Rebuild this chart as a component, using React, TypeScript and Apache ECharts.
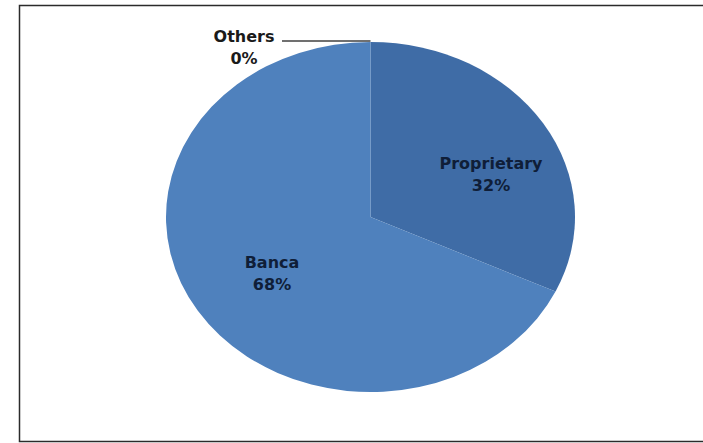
import React, { useEffect, useRef } from 'react';
import * as echarts from 'echarts';

const categories = ['Proprietary', 'Banca', 'Others'];
const values = [32, 68, 0];
const sliceColors = ['#3F6CA6', '#4F81BD', '#4F81BD'];
const labelCenters = [[491, 174], [272, 273], [244, 47]];

export default function App() {
  const ref = useRef<HTMLDivElement>(null);
  useEffect(() => {
    const chart = echarts.init(ref.current!, null, { renderer: 'svg' });
    const cx = 370.5, cy = 217, rx = 204.5, ry = 175;
    const total = values.reduce((a, b) => a + b, 0);
    const starts: number[] = [];
    let acc = 0;
    values.forEach((v) => { starts.push(acc); acc += v; });
    const font = { fontFamily: 'DejaVu Sans', fontWeight: 'bold', fontSize: 16 };
    chart.setOption({
      animation: false,
      backgroundColor: '#ffffff',
      graphic: [
        {
          type: 'rect',
          silent: true,
          shape: { x: 19.5, y: 5.5, width: 700, height: 436 },
          style: { fill: 'none', stroke: '#2b2b2b', lineWidth: 1.5 },
        },
      ],
      series: [
        {
          type: 'custom',
          coordinateSystem: 'none',
          data: values.map((v, i) => ({ name: categories[i], value: [i, v] })),
          renderItem: (params: any) => {
            const i = params.dataIndex;
            const a0 = (starts[i] / total) * 2 * Math.PI;
            const a1 = ((starts[i] + values[i]) / total) * 2 * Math.PI;
            const mid = (a0 + a1) / 2;
            const children: any[] = [];
            if (values[i] > 0) {
              children.push({
                type: 'sector',
                x: cx,
                y: cy,
                scaleY: ry / rx,
                shape: {
                  cx: 0,
                  cy: 0,
                  r0: 0,
                  r: rx,
                  startAngle: a0 - Math.PI / 2,
                  endAngle: a1 - Math.PI / 2,
                  clockwise: true,
                },
                style: { fill: sliceColors[i], stroke: 'none' },
              });
            }
            const [lx, ly] = labelCenters[i];
            const outside = values[i] === 0;
            children.push({
              type: 'text',
              x: lx,
              y: ly,
              style: {
                text: categories[i] + '\n' + values[i] + '%',
                align: 'center',
                verticalAlign: 'middle',
                lineHeight: 22,
                fill: outside ? '#1a1a1a' : '#0f1e38',
                ...font,
              },
            });
            if (outside) {
              const ex = cx + rx * Math.sin(mid);
              const ey = cy - ry * Math.cos(mid);
              children.push({
                type: 'line',
                shape: { x1: lx + 38, y1: ey - 1, x2: ex, y2: ey - 1 },
                style: { stroke: '#404040', lineWidth: 1.5 },
              });
            }
            return { type: 'group', children };
          },
        },
      ],
    });
    return () => chart.dispose();
  }, []);
  return (
    <div
      ref={ref}
      style={{ position: 'absolute', left: 0, top: 0, width: 703, height: 443, background: '#fff' }}
    />
  );
}
